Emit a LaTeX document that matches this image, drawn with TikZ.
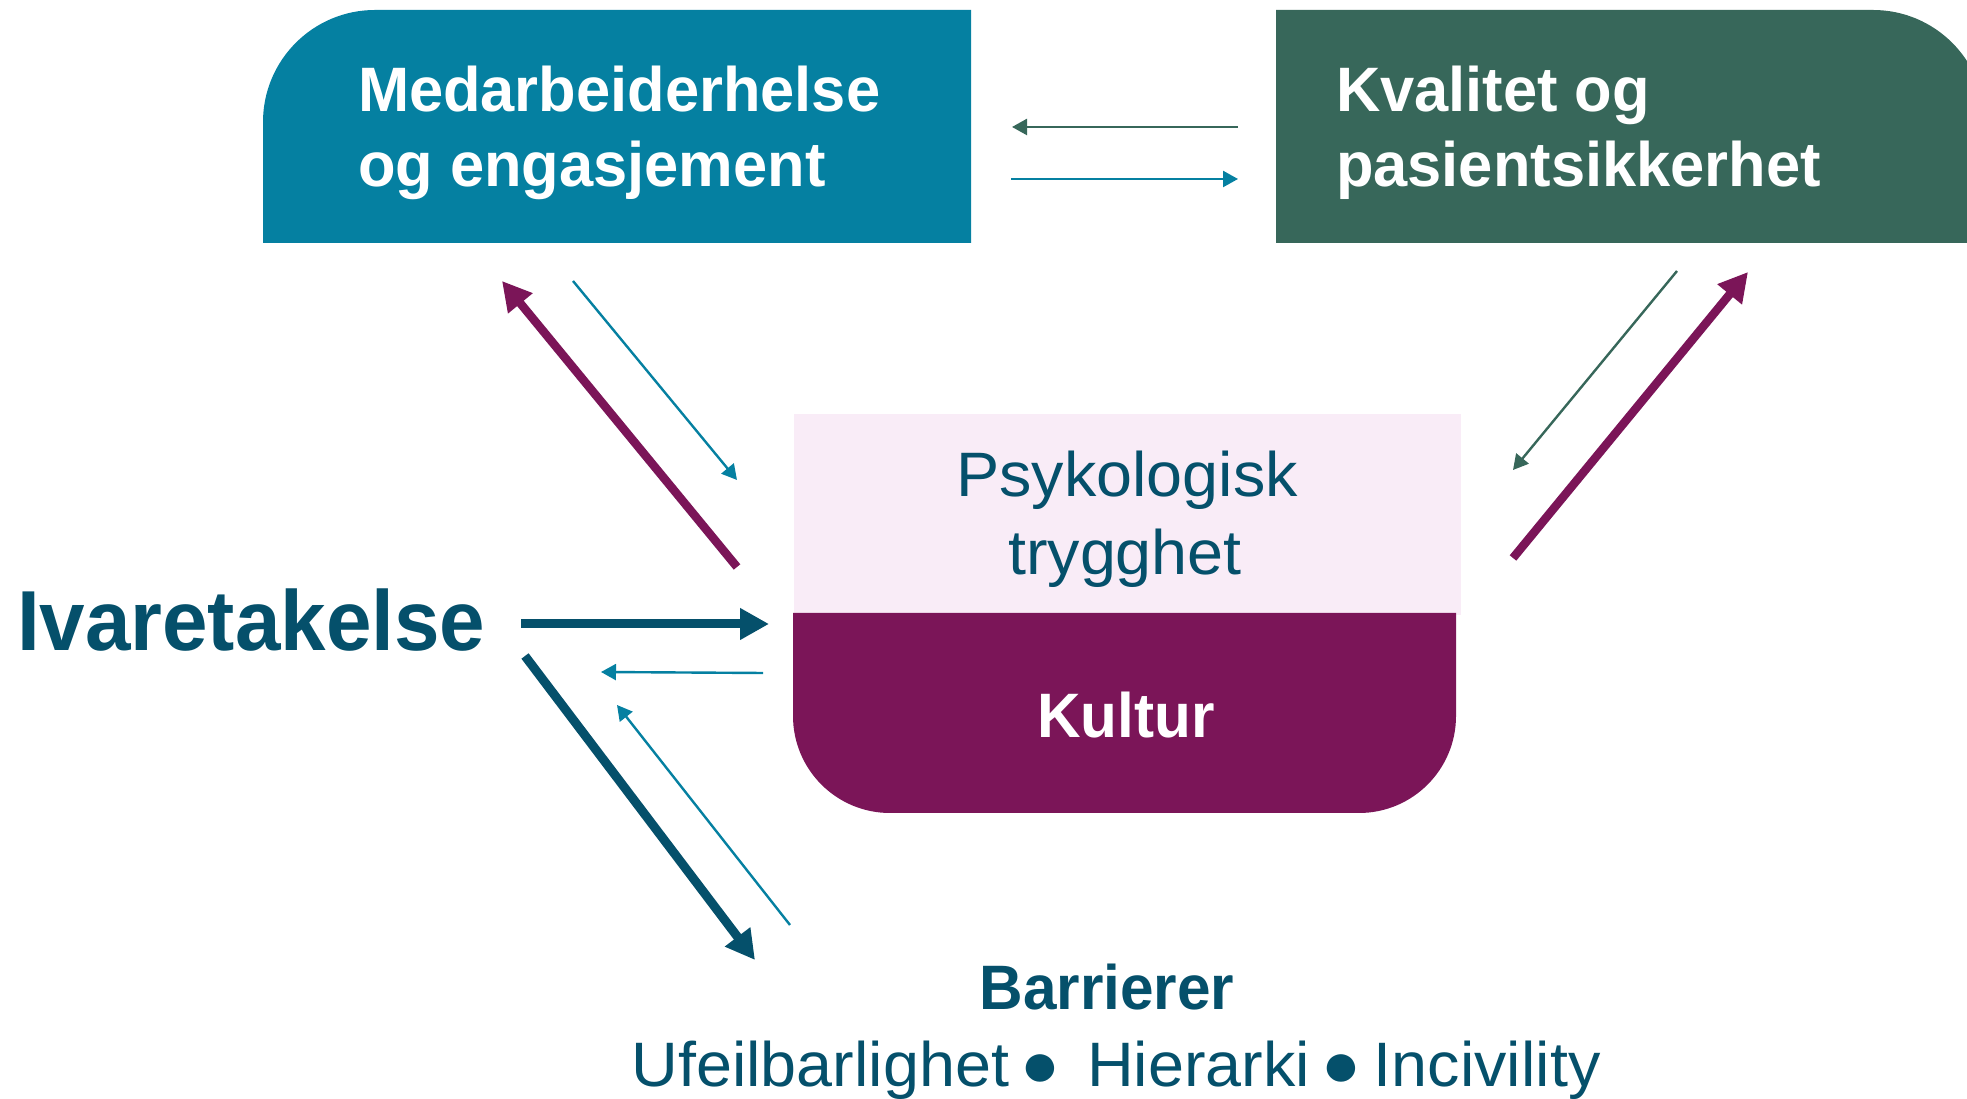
\documentclass[tikz,border=0pt]{standalone}
\usepackage{fontspec}
\setmainfont{Liberation Sans}
\newfontfamily\titlefont{Liberation Sans}[FakeStretch=0.978]
\newfontfamily\condfont{Liberation Sans}[FakeStretch=0.96]
\newfontfamily\regfont{Liberation Sans}[FakeStretch=1.03]
\usetikzlibrary{arrows.meta}
\definecolor{boxblue}{RGB}{5,128,161}
\definecolor{boxgreen}{RGB}{55,103,90}
\definecolor{boxpink}{RGB}{249,236,247}
\definecolor{boxpurple}{RGB}{123,21,88}
\definecolor{darkblue}{RGB}{5,80,107}
\newcommand{\mybullet}{\makebox[22pt]{\fontsize{64}{64}\selectfont●}}
\tikzset{
  txt/.style={inner sep=0pt, outer sep=0pt},
  boxtitle/.style={txt, anchor=base west, text=white, font=\titlefont\bfseries\fontsize{62.8}{75}\selectfont},
  bigarrow/.style={line width=9pt, -{Triangle[length=29pt,width=30pt]}},
  smallarrow/.style={line width=2.4pt, -{Triangle[length=15pt,width=16pt]}},
}
\begin{document}
\begin{tikzpicture}[x=1pt,y=1pt]
\useasboundingbox (0,0) rectangle (1967,1099);
\clip (0,0) rectangle (1967,1099);
% boxes
\fill[boxblue] (263,856) -- (263,977) arc[start angle=180,end angle=90,radius=112] -- (971,1089) -- (971,856) -- cycle;
\fill[boxgreen] (1276,856) -- (1276,1089) -- (1873,1089) arc[start angle=90,end angle=0,radius=112] -- (1985,856) -- cycle;
\fill[boxpink] (794,484) rectangle (1461,685);
\fill[boxpurple] (793,486) -- (793,383) arc[start angle=180,end angle=270,radius=97] -- (1359,286) arc[start angle=270,end angle=360,radius=97] -- (1456,486) -- cycle;
% texts
\node[boxtitle] (med1) at (358,987) {Medarbeiderhelse};
\node[boxtitle] (med2) at (358,912) {og engasjement};
\node[boxtitle] (kval1) at (1336,987) {Kvalitet og};
\node[boxtitle] (kval2) at (1336,912) {pasientsikkerhet};
\node[txt, anchor=base, text=darkblue, font=\regfont\fontsize{62.8}{75}\selectfont] (psy1) at (1127,602) {Psykologisk};
\node[txt, anchor=base, text=darkblue, font=\regfont\fontsize{62.8}{75}\selectfont] (psy2) at (1125,524) {trygghet};
\node[txt, anchor=base, text=white, font=\condfont\bfseries\fontsize{62.8}{75}\selectfont] (kultur) at (1126,361) {Kultur};
\node[txt, anchor=base west, text=darkblue, font=\condfont\bfseries\fontsize{85.2}{100}\selectfont] (ivar) at (17,448) {Ivaretakelse};
\node[txt, anchor=base, text=darkblue, font=\condfont\bfseries\fontsize{62.8}{75}\selectfont] (barr) at (1107,89) {Barrierer};
\node[txt, anchor=base, text=darkblue, font=\regfont\fontsize{62.8}{75}\selectfont] (barlist) at (1116,12) {Ufeilbarlighet\hspace{20pt}\mybullet\hspace{36pt}Hierarki\hspace{20pt}\mybullet\hspace{22pt}Incivility};
% arrow end points
\coordinate (a1s) at (1238,972); \coordinate (a1e) at (1012,972);
\coordinate (a2s) at (1011,920); \coordinate (a2e) at (1238,920);
\coordinate (a3s) at (737,532);  \coordinate (a3e) at (502,818);
\coordinate (a4s) at (573,818);  \coordinate (a4e) at (737,619);
\coordinate (a5s) at (1677,828); \coordinate (a5e) at (1513,629);
\coordinate (a6s) at (1513,541); \coordinate (a6e) at (1748,827);
\coordinate (a7s) at (521,475);  \coordinate (a7e) at (769,475);
\coordinate (a8s) at (763,426);  \coordinate (a8e) at (601,427);
\coordinate (a9s) at (525,443);  \coordinate (a9e) at (755,139);
\coordinate (a10s) at (790,174); \coordinate (a10e) at (617,394);
% arrows
\draw[smallarrow, boxgreen] (a1s) -- (a1e);
\draw[smallarrow, boxblue] (a2s) -- (a2e);
\draw[bigarrow, boxpurple, line width=8.5pt] (a3s) -- (a3e);
\draw[smallarrow, boxblue] (a4s) -- (a4e);
\draw[smallarrow, boxgreen] (a5s) -- (a5e);
\draw[bigarrow, boxpurple, line width=8.5pt] (a6s) -- (a6e);
\draw[bigarrow, darkblue] (a7s) -- (a7e);
\draw[smallarrow, boxblue] (a8s) -- (a8e);
\draw[bigarrow, darkblue] (a9s) -- (a9e);
\draw[smallarrow, boxblue] (a10s) -- (a10e);
\end{tikzpicture}
\end{document}
